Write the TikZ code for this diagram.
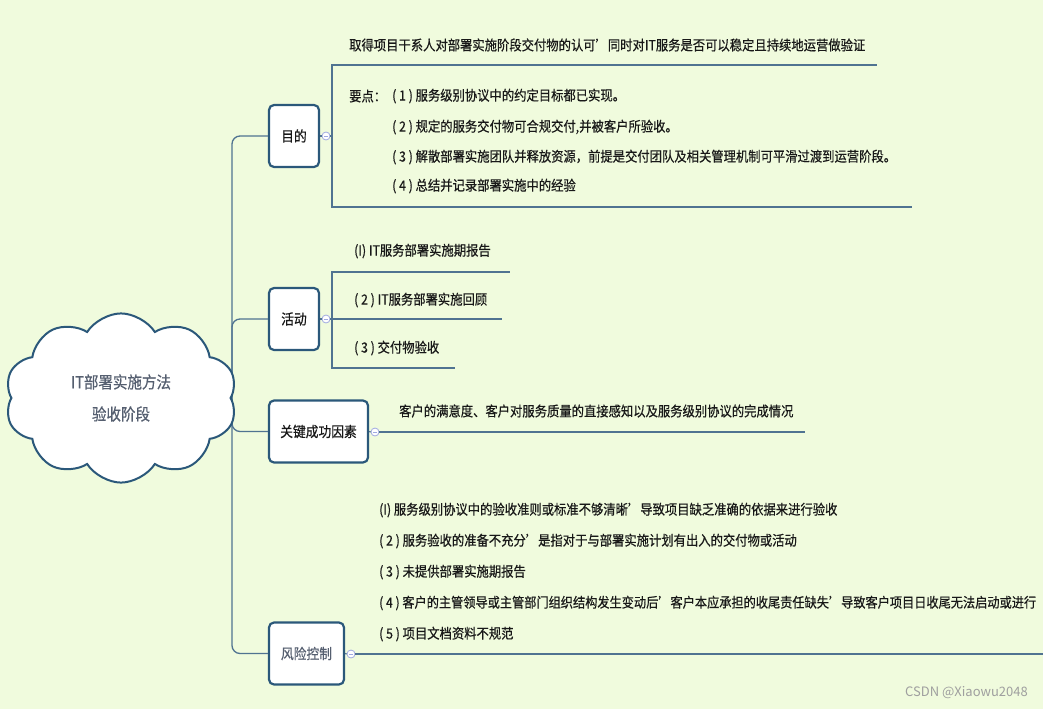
\documentclass[tikz,border=0pt]{standalone}
\usepackage{fontspec}
\setmainfont{Noto Sans CJK SC}[FakeStretch=0.88,FakeBold=0.5]
\newfontfamily\wmfont{Noto Sans CJK SC}
\usetikzlibrary{shapes.symbols}
\definecolor{bg}{RGB}{240,251,221}
\definecolor{boxc}{RGB}{43,88,122}
\definecolor{linec}{RGB}{80,115,145}
\definecolor{txt}{RGB}{24,24,24}
\definecolor{tgray}{RGB}{85,95,112}
\definecolor{knobc}{RGB}{160,170,225}
\begin{document}
\begin{tikzpicture}[x=1pt,y=-1pt,
  box/.style={draw=boxc, line width=2.2pt, rounded corners=5pt, fill=white, minimum height=62pt, inner sep=0pt, font=\fontsize{14.5}{16}\selectfont, text=txt},
  conn/.style={draw=linec, line width=1.3pt},
  uline/.style={draw=linec, line width=2pt},
  lbl/.style={anchor=west, inner sep=0pt, font=\fontsize{14}{16}\selectfont, text=txt},
  knobst/.style={circle, draw=knobc, fill=white, minimum size=8pt, inner sep=0pt, line width=0.8pt,
    path picture={\draw[knobc, line width=0.7pt] ([xshift=-2pt]path picture bounding box.center) -- ([xshift=2pt]path picture bounding box.center);}}]
\fill[bg] (0,0) rectangle (1043,709);
\useasboundingbox (0,0) rectangle (1043,709);

% boxes
\node[box, minimum width=50pt] (mudi) at (294,136) {目的};
\node[box, minimum width=50pt] (huodong) at (294,319) {活动};
\node[box, minimum width=99pt] (guanjian) at (318.5,431.5) {关键成功因素};
\node[box, minimum width=75pt, text=tgray] (fengxian) at (306.5,653.5) {风险控制};

% trunk
\coordinate (root) at (232,395);
\draw[conn, rounded corners=8pt] (root) |- (mudi.west);
\draw[conn, rounded corners=8pt] (root) |- (huodong.west);
\draw[conn, rounded corners=8pt] (root) |- (guanjian.west);
\draw[conn, rounded corners=8pt] (root) |- (fengxian.west);

% cloud
\node[cloud, cloud puffs=10, cloud puff arc=115, draw=boxc, fill=white, line width=2pt,
  minimum width=232pt, minimum height=156pt, align=center, text=tgray,
  font=\fontsize{16.5}{18}\selectfont] (rootnode) at (121,398) {IT部署实施方法\\[14pt]验收阶段};

% knobs
\node[knobst] (k1) at (326,136) {};
\node[knobst] (k2) at (326,319) {};
\node[knobst] (k3) at (375,432) {};
\node[knobst] (k4) at (351,654) {};

% 目的 children
\coordinate (j1) at (332,136);
\coordinate (a1e) at (877,65);
\coordinate (a2e) at (912,207);
\draw[conn] (mudi.east) -- (k1.west);
\draw[conn] (k1.east) -- (j1);
\draw[uline] (j1) |- (a1e);
\draw[uline] (j1) |- (a2e);
\node[lbl] (t1) at (349,45) {取得项目干系人对部署实施阶段交付物的认可’同时对IT服务是否可以稳定且持续地运营做验证};
\node[lbl] (yd) at (349,96) {要点：};
\node[lbl] (y1) at (392,96) {( 1 ) 服务级别协议中的约定目标都已实现。};
\node[lbl] (y2) at (392,127) {( 2 ) 规定的服务交付物可合规交付,并被客户所验收。};
\node[lbl] (y3) at (392,157) {( 3 ) 解散部署实施团队并释放资源，前提是交付团队及相关管理机制可平滑过渡到运营阶段。};
\node[lbl] (y4) at (392,186) {( 4 ) 总结并记录部署实施中的经验};

% 活动 children
\coordinate (j2) at (332,319);
\coordinate (b1e) at (510,272);
\coordinate (b2e) at (502,319);
\coordinate (b3e) at (455,368);
\draw[conn] (huodong.east) -- (k2.west);
\draw[conn] (k2.east) -- (j2);
\draw[uline] (j2) |- (b1e);
\draw[uline] (j2) -- (b2e);
\draw[uline] (j2) |- (b3e);
\node[lbl] (h1) at (354,251) {(I) IT服务部署实施期报告};
\node[lbl] (h2) at (354,300) {( 2 ) IT服务部署实施回顾};
\node[lbl] (h3) at (354,348) {( 3 ) 交付物验收};

% 关键成功因素 child
\coordinate (c1e) at (805,432);
\draw[conn] (guanjian.east) -- (k3.west);
\draw[uline] (k3.east) -- (c1e);
\node[lbl] (g1) at (399,411) {客户的满意度、客户对服务质量的直接感知以及服务级别协议的完成情况};

% 风险控制 child
\coordinate (d1e) at (1043,654);
\draw[conn] (fengxian.east) -- (k4.west);
\draw[uline] (k4.east) -- (d1e);
\node[lbl] (r1) at (379,510) {(I) 服务级别协议中的验收准则或标准不够清晰’导致项目缺乏准确的依据来进行验收};
\node[lbl] (r2) at (379,541) {( 2 ) 服务验收的准备不充分’是指对于与部署实施计划有出入的交付物或活动};
\node[lbl] (r3) at (379,572) {( 3 ) 未提供部署实施期报告};
\node[lbl, font=\fontsize{13.85}{16}\selectfont] (r4) at (379,603) {( 4 ) 客户的主管领导或主管部门组织结构发生变动后’客户本应承担的收尾责任缺失’导致客户项目日收尾无法启动或进行};
\node[lbl] (r5) at (379,634) {( 5 ) 项目文档资料不规范};

% watermark
\node[anchor=east, inner sep=0pt, text=gray!75, font=\wmfont\fontsize{13}{15}\selectfont] (wm) at (1028,693) {CSDN @Xiaowu2048};
\end{tikzpicture}
\end{document}
